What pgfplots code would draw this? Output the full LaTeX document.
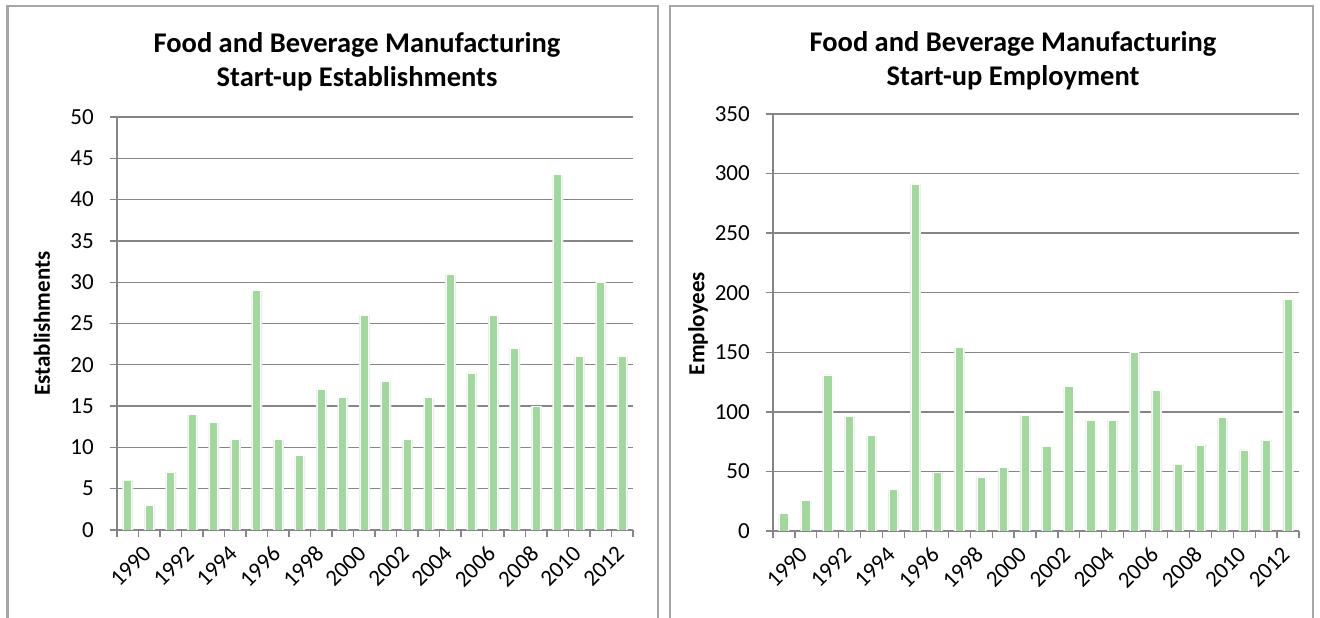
\documentclass[border=0pt]{standalone}
\usepackage{pgfplots}
\usepackage{pgfplotstable}
\pgfplotsset{compat=1.18}
\usepackage{fontspec}
\setmainfont{Carlito}

\definecolor{bargreen}{HTML}{A0D99B}
\definecolor{gridgray}{HTML}{868686}
\definecolor{framegray}{HTML}{A6A6A6}

% start-ups per year: establishments and their employment
\pgfplotstableread{
idx year est emp
0  1990 6  15
1  1991 3  26
2  1992 7  131
3  1993 14 96
4  1994 13 80
5  1995 11 35
6  1996 29 291
7  1997 11 49
8  1998 9  154
9  1999 17 45
10 2000 16 53
11 2001 26 97
12 2002 18 71
13 2003 11 121
14 2004 16 93
15 2005 31 93
16 2006 19 150
17 2007 26 118
18 2008 22 56
19 2009 15 72
20 2010 43 95
21 2011 21 68
22 2012 30 76
23 2013 21 194
}\startups

\pgfplotsset{
  startup/.style={
    scale only axis,
    xmin=-0.5, xmax=23.5, ymin=0,
    axis x line*=bottom, axis y line*=left,
    axis line style={gridgray, line width=1.3pt, -},
    tick align=outside,
    major tick length=7pt,
    tick style={gridgray, line width=1.3pt},
    xtick={-0.5,0.5,...,23.5},
    x tick label as interval,
    xticklabels={1990,,1992,,1994,,1996,,1998,,2000,,2002,,2004,,2006,,2008,,2010,,2012,},
    xticklabel style={rotate=45, anchor=north east, inner sep=1pt, xshift=6pt, yshift=-14pt},
    ymajorgrids,
    grid style={gridgray, line width=1.3pt},
    /pgf/number format/assume math mode=true,
    tick label style={font=\fontsize{23}{23}\selectfont},
    yticklabel style={inner sep=2pt, xshift=-14pt},
    every axis y label/.style={at={(rel axis cs:0,0.5)}, xshift=-75pt,
      rotate=90, anchor=center, font=\bfseries\fontsize{23}{23}\selectfont},
    ybar, bar shift=0pt,
  },
  shadowbar/.style={fill=black!7, draw=none, bar width=11pt, bar shift=0pt},
  greenbar/.style={fill=bargreen, draw=white, line width=0.8pt, bar width=8.2pt, bar shift=0pt},
}
\tikzset{titlefont/.style={font=\bfseries\fontsize{28.5}{34}\selectfont, anchor=base}}

\begin{document}
\begin{tikzpicture}
\useasboundingbox (0pt,0pt) rectangle (1320pt,618pt);

% panel frames
\draw[framegray, line width=2.5pt] (7.5pt,-10pt) -- (7.5pt,612pt) -- (658pt,612pt) -- (658pt,-10pt);
\draw[framegray, line width=2.5pt] (670pt,-10pt) -- (670pt,612pt) -- (1313pt,612pt) -- (1313pt,-10pt);

% titles
\node[titlefont] at (357pt,565pt) {Food and Beverage Manufacturing};
\node[titlefont] at (357pt,531pt) {Start-up Establishments};
\node[titlefont] at (1013pt,566pt) {Food and Beverage Manufacturing};
\node[titlefont] at (1013pt,532pt) {Start-up Employment};

% establishments
\begin{axis}[startup, at={(117pt,88pt)}, anchor=south west, width=516pt, height=413pt,
    ymax=50, ytick={0,5,...,50}, ylabel={Establishments}]
  \addplot[shadowbar] table[x=idx, y=est] {\startups};
  \addplot[greenbar] table[x=idx, y=est] {\startups};
\end{axis}

% employment
\begin{axis}[startup, at={(773pt,87pt)}, anchor=south west, width=526pt, height=417pt,
    ymax=350, ytick={0,50,...,350}, ylabel={Employees},
    every axis y label/.append style={xshift=-1pt}]
  \addplot[shadowbar] table[x=idx, y=emp] {\startups};
  \addplot[greenbar] table[x=idx, y=emp] {\startups};
\end{axis}
\end{tikzpicture}
\end{document}
